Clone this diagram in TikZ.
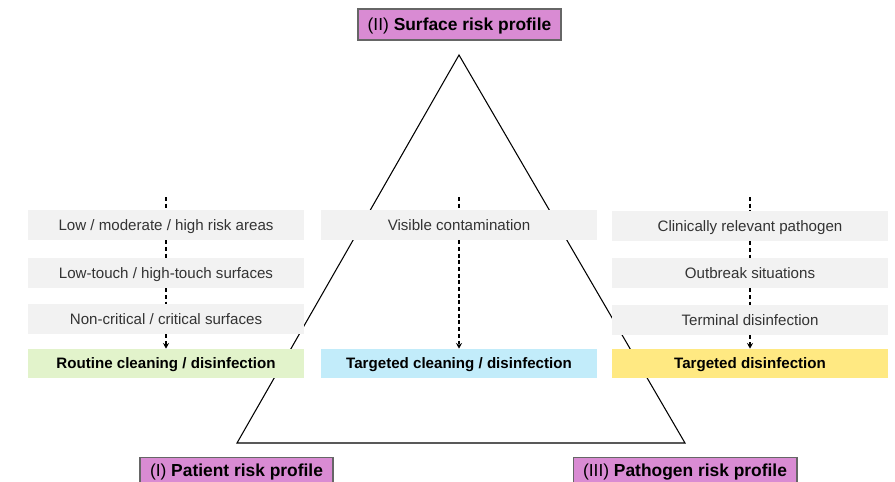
\documentclass[tikz,border=0pt]{standalone}
\usepackage{fontspec}
\setmainfont{Liberation Sans}
\usepackage{tikz}
\usetikzlibrary{positioning,arrows.meta}

\definecolor{profilepink}{HTML}{D98BD3}
\definecolor{boxgray}{HTML}{F2F2F2}
\definecolor{routinegreen}{HTML}{E2F3CB}
\definecolor{targetblue}{HTML}{C2ECFA}
\definecolor{targetyellow}{HTML}{FFE982}

\begin{document}
\begin{tikzpicture}[x=0.02cm,y=-0.02cm,>={Stealth[length=3.2pt,width=3.4pt]},font=\fontsize{8.6}{10}\selectfont]
  \tikzstyle{factor}=[fill=boxgray,text=black!80,minimum width=5.54cm,minimum height=0.6cm,inner sep=0pt,text height=6.2pt,text depth=0pt]
  \tikzstyle{measure}=[minimum width=5.54cm,minimum height=0.58cm,inner sep=0pt,text height=6.2pt,text depth=0pt,font=\fontsize{8.6}{10}\selectfont\bfseries]
  \tikzstyle{profile}=[fill=profilepink,draw=black!60,line width=0.6pt,inner sep=0pt,minimum height=0.62cm,text height=7.1pt,text depth=0pt,font=\fontsize{9.9}{12}\selectfont]
  \tikzstyle{flow}=[dashed,line width=0.9pt,dash pattern=on 2.2pt off 1.6pt]

  \useasboundingbox (0,0) rectangle (895,481);

  % triangle
  \coordinate (apex) at (459,55);
  \coordinate (bl) at (237,443);
  \coordinate (br) at (685,443);
  \draw[line width=0.6pt] (apex) -- (bl) -- (br) -- cycle;

  % profiles
  \node[profile,minimum width=4.06cm] (surface) at (459.5,24.5) {(II) \textbf{Surface risk profile}};
  \node[profile,minimum width=3.86cm,minimum height=0.52cm,anchor=north] (patient) at (236.5,457) {(I) \textbf{Patient risk profile}};
  \node[profile,minimum width=4.48cm,minimum height=0.52cm,anchor=north] (pathogen) at (685,457) {(III) \textbf{Pathogen risk profile}};

  % patient column
  \node[factor] (areas) at (166,225) {Low / moderate / high risk areas};
  \node[factor] (touch) at (166,273) {Low-touch / high-touch surfaces};
  \node[factor] (critical) at (166,319) {Non-critical / critical surfaces};
  \node[measure,fill=routinegreen] (routine) at (166,363.5) {Routine cleaning / disinfection};
  \coordinate (ltop) at (166,197);

  % surface column
  \node[factor] (visible) at (459,225) {Visible contamination};
  \node[measure,fill=targetblue] (targeted) at (459,363.5) {Targeted cleaning / disinfection};
  \coordinate (mtop) at (459,197);

  % pathogen column
  \node[factor] (clinical) at (750,226) {Clinically relevant pathogen};
  \node[factor] (outbreak) at (750,273) {Outbreak situations};
  \node[factor] (terminal) at (750,320) {Terminal disinfection};
  \node[measure,fill=targetyellow] (disinf) at (750,363.5) {Targeted disinfection};
  \coordinate (rtop) at (750,197);

  % connectors
  \draw[flow] (ltop) -- (areas.north);
  \draw[flow] (areas.south) -- (touch.north);
  \draw[flow] (touch.south) -- (critical.north);
  \draw[flow,->] (critical.south) -- (routine.north);

  \draw[flow] (mtop) -- (visible.north);
  \draw[flow,->] (visible.south) -- (targeted.north);

  \draw[flow] (rtop) -- (clinical.north);
  \draw[flow] (clinical.south) -- (outbreak.north);
  \draw[flow] (outbreak.south) -- (terminal.north);
  \draw[flow,->] (terminal.south) -- (disinf.north);
\end{tikzpicture}
\end{document}
